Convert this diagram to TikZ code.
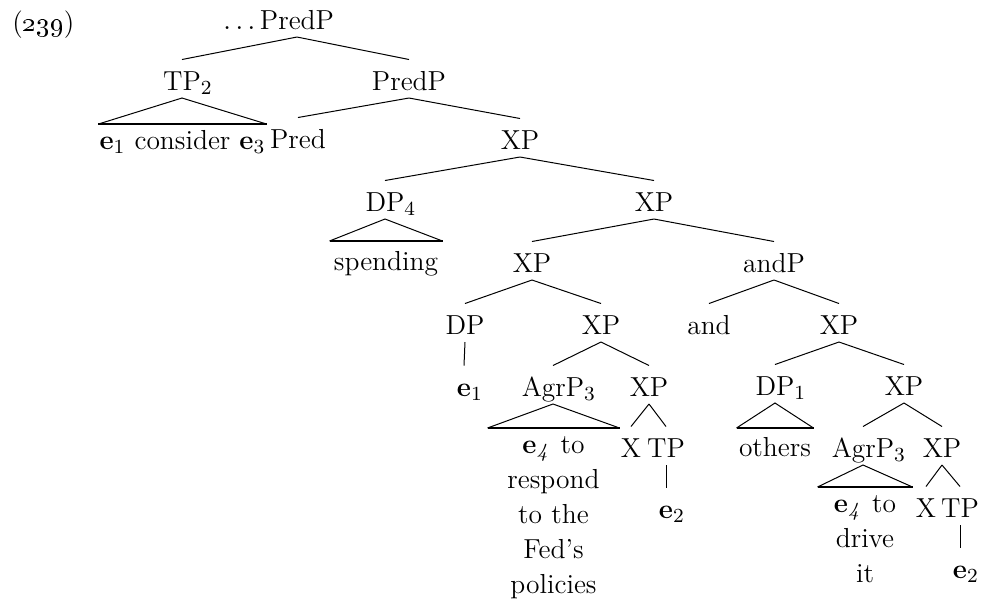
\documentclass[tikz,border=0pt]{standalone}
\usetikzlibrary{positioning}

\begin{document}
\begin{tikzpicture}[
    x=0.4pt, y=-0.4pt,
    font=\fontsize{11}{14}\selectfont,
    cat/.style={anchor=base, inner sep=0pt, text height=12pt, text depth=3pt},
    roofed/.style={anchor=north, inner sep=0pt, align=center, execute at begin node={\rule{0pt}{#1}}},
    roofed/.default=10pt,
    branch/.style={line width=0.4pt},
    roofbase/.style={line width=0.9pt}
]
\useasboundingbox (0,0) rectangle (982,603);

\node[anchor=base west, inner sep=0pt] (exnum) at (12,31) {(\oldstylenums{239})};

% upper part of the tree
\node[cat] (root) at (297,29) {\llap{$\ldots$\,}PredP};
\node[cat] (tp) at (182,90) {TP\rlap{$_2$}};
\node[cat] (predp) at (409,90) {PredP};
\node[roofed, minimum width=66.8pt] (tpleaf) at (182.5,124) {\textbf{e}$_1$ consider \textbf{e}$_3$};
\node[cat] (pred) at (298,148) {Pred};
\node[cat] (xpI) at (520,149) {XP};
\node[cat] (dpIV) at (385,211) {DP\rlap{$_4$}};
\node[cat] (xpII) at (654,211) {XP};
\node[roofed=11.6pt, minimum width=44.8pt] (spending) at (386,241) {spending};
\node[cat] (xpIII) at (532,272) {XP};
\node[cat] (andp) at (774,272) {andP};

% left conjunct
\node[cat] (dp) at (465,334) {DP};
\node[cat] (xpIV) at (601,334) {XP};
\node[cat] (eIa) at (464,396) {\textbf{e}\rlap{$_1$}};
\node[cat] (agrpA) at (553,396) {AgrP\rlap{$_3$}};
\node[cat] (xpVI) at (649,396) {XP};
\node[roofed, text width=52.4pt] (agrpAleaf) at (553.5,428) {\textbf{e}$_{\mathit{4}}$ to\\respond\\to the\\Fed's\\policies};
\node[cat] (xA) at (631,457) {X};
\node[cat] (tpA) at (666,457) {TP};
\node[cat] (eIIa) at (666,518) {\textbf{e}\rlap{$_2$}};

% right conjunct
\node[cat] (conj) at (709,334) {and};
\node[cat] (xpV) at (839,334) {XP};
\node[cat] (dpI) at (775,395) {DP\rlap{$_1$}};
\node[cat] (xpVII) at (904,395) {XP};
\node[roofed=11.2pt, minimum width=30.4pt] (others) at (775,428) {others};
\node[cat] (agrpB) at (863,457) {AgrP\rlap{$_3$}};
\node[cat] (xpVIII) at (942,457) {XP};
\node[roofed, text width=37.6pt] (agrpBleaf) at (865,487) {\textbf{e}$_{\mathit{4}}$ to\\drive\\it};
\node[cat] (xB) at (926,517) {X};
\node[cat] (tpB) at (960,517) {TP};
\node[cat] (eIIb) at (960,578) {\textbf{e}\rlap{$_2$}};

% branches
\draw[branch] (root.south) -- (tp.north);
\draw[branch] (root.south) -- (predp.north);
\draw[branch] (predp.south) -- (pred.north);
\draw[branch] (predp.south) -- (xpI.north);
\draw[branch] (xpI.south) -- (dpIV.north);
\draw[branch] (xpI.south) -- (xpII.north);
\draw[branch] (xpII.south) -- (xpIII.north);
\draw[branch] (xpII.south) -- (andp.north);
\draw[branch] (xpIII.south) -- (dp.north);
\draw[branch] (xpIII.south) -- (xpIV.north);
\draw[branch] (andp.south) -- (conj.north);
\draw[branch] (andp.south) -- (xpV.north);
\draw[branch] (dp.south) -- (eIa.north);
\draw[branch] (xpIV.south) -- (agrpA.north);
\draw[branch] (xpIV.south) -- (xpVI.north);
\draw[branch] (xpVI.south) -- (xA.north);
\draw[branch] (xpVI.south) -- (tpA.north);
\draw[branch] (tpA.south) -- (eIIa.north);
\draw[branch] (xpV.south) -- (dpI.north);
\draw[branch] (xpV.south) -- (xpVII.north);
\draw[branch] (xpVII.south) -- (agrpB.north);
\draw[branch] (xpVII.south) -- (xpVIII.north);
\draw[branch] (xpVIII.south) -- (xB.north);
\draw[branch] (xpVIII.south) -- (tpB.north);
\draw[branch] (tpB.south) -- (eIIb.north);

% roofs over unanalysed material
\draw[branch] (tpleaf.north west) -- (tp.south) -- (tpleaf.north east);
\draw[roofbase] (tpleaf.north west) -- (tpleaf.north east);
\draw[branch] (spending.north west) -- (dpIV.south) -- (spending.north east);
\draw[roofbase] (spending.north west) -- (spending.north east);
\draw[branch] (agrpAleaf.north west) -- (agrpA.south) -- (agrpAleaf.north east);
\draw[roofbase] (agrpAleaf.north west) -- (agrpAleaf.north east);
\draw[branch] (others.north west) -- (dpI.south) -- (others.north east);
\draw[roofbase] (others.north west) -- (others.north east);
\draw[branch] (agrpBleaf.north west) -- (agrpB.south) -- (agrpBleaf.north east);
\draw[roofbase] (agrpBleaf.north west) -- (agrpBleaf.north east);
\end{tikzpicture}
\end{document}
